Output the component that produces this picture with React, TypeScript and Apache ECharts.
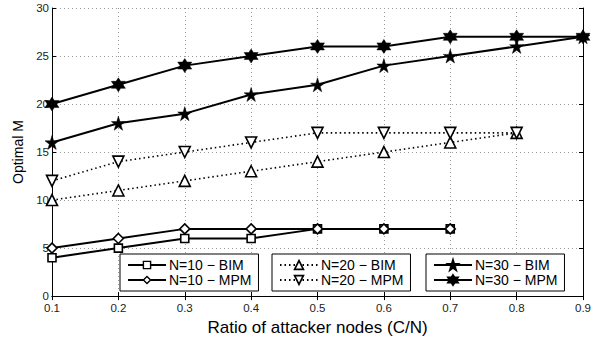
import React, { useEffect, useRef } from "react";
import * as echarts from "echarts";

const categories = ["0.1", "0.2", "0.3", "0.4", "0.5", "0.6", "0.7", "0.8", "0.9"];
const n10Bim = [4, 5, 6, 6, 7, 7, 7];
const n10Mpm = [5, 6, 7, 7, 7, 7, 7];
const n20Bim = [10, 11, 12, 13, 14, 15, 16, 17];
const n20Mpm = [12, 14, 15, 16, 17, 17, 17, 17];
const n30Bim = [16, 18, 19, 21, 22, 24, 25, 26, 27];
const n30Mpm = [20, 22, 24, 25, 26, 26, 27, 27, 27];
const names = ["N=10 − BIM", "N=10 − MPM", "N=20 − BIM", "N=20 − MPM", "N=30 − BIM", "N=30 − MPM"];

const STAR5 = "path://M50,0 L61,35 L98,35 L68,57 L79,91 L50,70 L21,91 L32,57 L2,35 L39,35 Z";
const HEX = "path://M50,0 L64,25 L93,25 L79,50 L93,75 L64,75 L50,100 L36,75 L7,75 L21,50 L7,25 L36,25 Z";
const TRI_DOWN = "path://M0,0 L100,0 L50,87 Z";
const TRI_UP = "path://M50,0 L100,87 L0,87 Z";

const FONT = "Liberation Sans, Arial, sans-serif";

export default function App() {
  const ref = useRef<HTMLDivElement>(null);
  useEffect(() => {
    if (!ref.current) return;
    const chart = echarts.init(ref.current, null, { renderer: "svg" });
    const mk = (name: string, data: number[], symbol: string, size: number, filled: boolean, dotted: boolean) => ({
      name,
      type: "line",
      data,
      symbol,
      symbolSize: size,
      showAllSymbol: true,
      lineStyle: { color: "#000", width: dotted ? 1.6 : 2, type: dotted ? [1.5, 3] : "solid" },
      itemStyle: { color: filled ? "#000" : "#fff", borderColor: "#000", borderWidth: filled ? 0.5 : 1.6 },
      emphasis: { disabled: true },
      z: 3,
    });
    const legendBase = {
      orient: "vertical",
      borderColor: "#000",
      borderWidth: 1,
      backgroundColor: "#fff",
      padding: [4, 7, 4, 7],
      itemGap: 1,
      itemWidth: 38,
      itemHeight: 8,
      textStyle: { fontFamily: FONT, fontSize: 14, color: "#000", padding: [0, 0, 0, -2] },
      z: 10,
    };
    const axisLine = { show: true, lineStyle: { color: "#000", width: 1 } };
    const tickIn = { show: true, inside: true, length: 4, lineStyle: { color: "#000" } };
    chart.setOption({
      animation: false,
      backgroundColor: "#fff",
      grid: { left: 52, right: 20, top: 8, bottom: 42 },
      xAxis: [
        {
          type: "category",
          data: categories,
          boundaryGap: false,
          name: "Ratio of attacker nodes (C/N)",
          nameLocation: "middle",
          nameGap: 18,
          nameTextStyle: { fontFamily: FONT, fontSize: 17, color: "#000" },
          axisLine,
          axisTick: { ...tickIn, alignWithLabel: true },
          axisLabel: { fontFamily: FONT, fontSize: 11.5, color: "#222", margin: 6, showMinLabel: true, showMaxLabel: true },
          splitLine: { show: true, lineStyle: { color: "#999", type: [1, 3] } },
        },
        {
          type: "category",
          data: categories,
          boundaryGap: false,
          position: "top",
          axisLine,
          axisTick: tickIn,
          axisLabel: { show: false },
          splitLine: { show: false },
        },
      ],
      yAxis: [
        {
          type: "value",
          min: 0,
          max: 30,
          interval: 5,
          name: "Optimal M",
          nameLocation: "middle",
          nameGap: 27,
          nameTextStyle: { fontFamily: FONT, fontSize: 14, color: "#000" },
          axisLine,
          axisTick: tickIn,
          axisLabel: { fontFamily: FONT, fontSize: 11.5, color: "#222", margin: 3 },
          splitLine: { show: true, lineStyle: { color: "#999", type: [1, 3] } },
        },
        {
          type: "value",
          min: 0,
          max: 30,
          interval: 5,
          position: "right",
          axisLine,
          axisTick: tickIn,
          axisLabel: { show: false },
          splitLine: { show: false },
        },
      ],
      legend: [
        { ...legendBase, data: [names[0], names[1]], left: 120, top: 254, itemHeight: 9, itemStyle: { borderWidth: 1.4 } },
        { ...legendBase, data: [names[2], names[3]], left: 272, top: 254, itemHeight: 11, itemStyle: { borderWidth: 1.7 } },
        { ...legendBase, data: [names[4], names[5]], left: 426, top: 254, itemHeight: 12 },
      ],
      series: [
        mk(names[0], n10Bim, "rect", 8, false, false),
        mk(names[1], n10Mpm, "diamond", 10, false, false),
        mk(names[2], n20Bim, TRI_UP, 11, false, true),
        mk(names[3], n20Mpm, TRI_DOWN, 11, false, true),
        mk(names[4], n30Bim, STAR5, 14, true, false),
        mk(names[5], n30Mpm, HEX, 14, true, false),
      ],
    });
    return () => chart.dispose();
  }, []);
  return <div ref={ref} style={{ width: 603, height: 341, position: "absolute", left: 0, top: 0 }} />;
}
